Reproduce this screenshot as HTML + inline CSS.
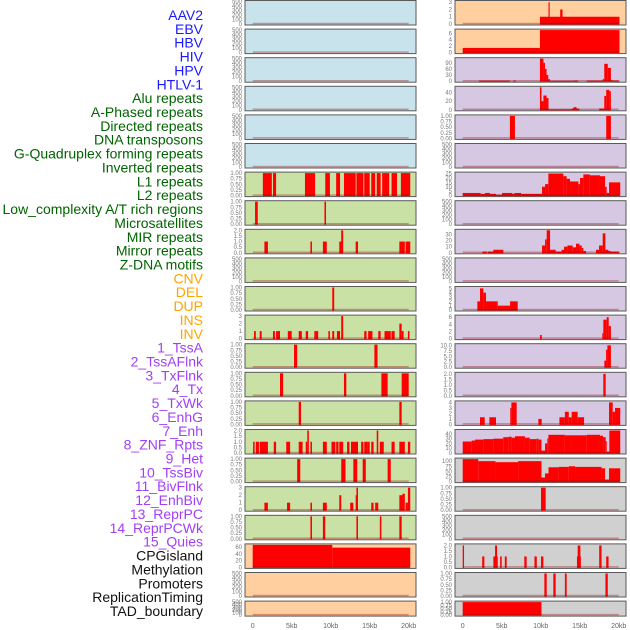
<!DOCTYPE html>
<html><head><meta charset="utf-8">
<style>
html,body{margin:0;padding:0;background:#fff;}
svg{display:block;font-family:"Liberation Sans",sans-serif;}
</style></head>
<body>
<svg id="chart" width="630" height="630" viewBox="0 0 630 630" xmlns="http://www.w3.org/2000/svg">
<g id="labels"></g>
<g id="panels"></g>
<g id="xaxes"></g>
</svg>
<script>
// ---- label data ----
const labelNames = ["AAV2","EBV","HBV","HIV","HPV","HTLV-1","Alu repeats","A-Phased repeats","Directed repeats","DNA transposons","G-Quadruplex forming repeats","Inverted repeats","L1 repeats","L2 repeats","Low_complexity A/T rich regions","Microsatellites","MIR repeats","Mirror repeats","Z-DNA motifs","CNV","DEL","DUP","INS","INV","1_TssA","2_TssAFlnk","3_TxFlnk","4_Tx","5_TxWk","6_EnhG","7_Enh","8_ZNF_Rpts","9_Het","10_TssBiv","11_BivFlnk","12_EnhBiv","13_ReprPC","14_ReprPCWk","15_Quies","CPGisland","Methylation","Promoters","ReplicationTiming","TAD_boundary"];
const labelGroups = [6,13,5,15,5];
const groupColors = ["#1a1aff","#006400","#ffa500","#a23ff5","#111111"];

// ---- tick label sets ----
const T500 = ["0","100","200","300","400","500"];
const T1 = ["0.00","0.25","0.50","0.75","1.00"];
const T2 = ["0.0","0.5","1.0","1.5","2.0"];
const T3 = ["0","1","2","3"];
const T60 = ["0","20","40","60"];
const T6 = ["0","2","4","6"];
const T90 = ["0","30","60","90"];
const T40 = ["0","20","40"];
const T25 = ["0","5","10","15","20","25"];
const T30 = ["0","10","20","30"];
const T5 = ["0","1","2","3","4","5"];
const T10 = ["0.0","2.5","5.0","7.5","10.0"];
const T4 = ["0","1","2","3","4"];
const T45 = ["0","10","20","30","40"];
const T100 = ["0","25","50","75","100"];

// ---- series data: [start_kb, end_kb, value] ----
const midL1 = [[1.3,2.45,1],[2.6,3.0,1],[6.7,8.0,1],[9.3,9.9,1],[10.7,11.2,1],[11.7,13.2,1],[13.3,14.2,1],[14.3,15.0,1],[15.2,15.7,1],[15.9,16.4,1],[16.6,17.5,1],[17.8,18.5,1],[19.0,20.2,1]];
const midL2 = [[0.3,0.65,1],[9.2,9.4,1]];
const midMIR = [[1.5,1.95,1],[7.4,7.6,1],[9.0,9.5,1],[11.1,11.5,1],[11.35,11.6,2],[13.2,13.5,1],[18.8,19.5,1],[19.6,20.2,1]];
const midR11 = [[10.2,10.45,1]];
const midR12 = [[0.17,0.4,1],[0.9,1.15,1],[2.6,2.85,1],[3.0,3.5,1],[4.5,5.0,1],[5.9,6.3,1],[6.8,7.1,1],[7.9,8.4,1],[9.7,9.9,1],[10.2,10.45,1],[10.8,11.2,1],[11.35,11.6,3],[14.3,14.6,1],[14.8,15.35,1],[16.1,16.4,1],[16.9,17.7,1],[17.8,18.2,1],[18.8,19.1,2],[19.1,19.35,1],[19.9,20.1,1]];
const midR13 = [[5.3,5.7,1],[15.6,16.0,1]];
const midR14 = [[3.5,3.9,1],[11.7,12.0,1],[16.5,17.3,1],[19.1,20.0,1]];
const midR15 = [[5.9,6.2,1],[18.8,19.1,1]];
const midR16 = [[0.05,0.25,1],[0.4,0.8,1],[0.9,1.95,1],[2.7,3.0,1],[4.3,4.8,1],[5.9,6.4,1],[6.8,7.0,1],[7.0,7.2,2],[7.4,7.6,1],[9.0,9.5,1],[10.1,10.6,1],[10.7,11.0,1],[11.1,11.6,1],[12.1,12.4,1],[12.6,13.5,1],[13.9,14.2,1],[14.3,14.7,1],[14.7,15.0,1],[15.2,15.5,1],[15.9,16.1,2],[16.3,16.8,1],[17.8,18.2,1],[18.8,19.5,1],[19.9,20.2,1]];
const midR17 = [[5.7,6.1,1],[11.35,11.9,1],[12.9,13.4,1],[14.1,14.5,1],[17.3,17.7,1]];
const midR18 = [[1.5,1.95,1],[4.4,4.8,1],[7.4,7.6,1],[9.0,9.5,1],[11.1,11.35,2],[12.5,12.9,1],[13.2,13.3,2],[13.3,13.5,3],[15.2,15.5,1],[15.7,16.1,1],[18.8,19.2,2],[19.2,19.5,2.2],[19.6,19.9,1],[19.9,20.2,3]];
const midR19 = [[7.4,7.6,1],[9.0,9.3,1],[13.3,13.5,1],[16.3,16.5,1],[18.8,19.1,1]];
const midCPG = [[0,10.2,66],[10.2,20.2,58]];

const rtR1 = [[9.9,20.1,1],[11.0,11.15,3],[12.5,12.8,2]];
const rtR2 = [[0,9.9,1.45],[9.9,20.1,7]];
const rtR3 = [[2.1,6.05,3],[6.5,6.8,3],[9.9,10.35,110],[10.35,10.55,90],[10.55,10.75,60],[10.75,10.97,30],[10.97,11.2,10],[11.2,14.2,2],[14.2,14.8,3],[15.9,17.95,3],[17.95,18.15,10],[18.15,18.6,85],[18.6,19.0,65],[19.0,19.2,5],[19.2,20.1,3]];
const rtR4 = [[9.9,10.1,52],[10.1,10.35,20],[10.35,10.75,33],[10.75,11.0,27],[11.0,13.97,1],[13.97,14.2,3],[14.2,14.6,6],[14.6,14.95,3],[17.5,18.15,3],[18.15,18.4,32],[18.4,18.8,46],[18.8,19.0,43]];
const rtR5 = [[6.05,6.7,1],[18.4,19.0,1]];
const rtR7 = [[0,2.3,3],[2.3,2.86,2],[2.86,3.5,3],[3.5,4.27,2],[4.27,5.04,1],[5.04,6.37,3],[6.37,6.62,2],[6.62,7.48,3],[7.48,10.17,2],[10.17,10.56,10],[10.56,10.98,13],[10.98,12.9,25],[12.9,13.33,22],[13.33,13.76,19],[13.76,14.83,16],[14.83,15.04,13],[15.04,15.47,20],[15.47,16.3,24],[16.3,17.6,23],[17.6,18.25,22],[18.25,18.46,10],[18.46,18.76,3],[18.76,20.2,15]];
const rtR9 = [[2.52,3.08,2],[3.2,3.93,2],[3.93,5.21,5],[10.17,10.56,12],[10.56,10.77,22],[10.77,11.2,37],[11.2,11.92,5],[11.92,12.69,2],[12.69,12.99,5],[12.99,13.42,10],[13.42,14.1,12],[14.1,14.53,9],[14.53,14.96,15],[14.96,15.26,12],[15.26,15.47,8],[15.47,15.81,3],[17.09,17.48,5],[17.48,17.95,12],[17.95,18.29,32],[18.29,18.68,5],[18.68,18.97,3],[18.97,20.09,2]];
const rtR11 = [[1.88,2.22,2],[2.22,2.65,5],[2.65,2.99,4],[2.99,4.49,2],[4.49,6.07,1],[6.07,7.05,2]];
const rtR12 = [[9.91,10.13,1],[17.9,18.03,1.5],[18.03,18.46,5.3],[18.46,18.72,6],[18.72,19.0,3.5]];
const rtR13 = [[18.16,18.38,3],[18.38,18.55,8],[18.55,19.0,10]];
const rtR14 = [[18.03,18.33,2]];
const rtR15 = [[2.22,2.82,1.3],[3.42,4.27,1.3],[6.1,6.24,3],[6.24,6.92,4],[9.7,10.13,1],[12.4,13.1,1.3],[13.1,13.6,2.3],[13.6,13.97,1.3],[13.97,14.74,2.3],[14.74,15.56,1.3],[18.76,19.23,4],[19.23,19.53,2.3],[19.53,20.2,3]];
const rtR16 = [[0,1.15,24],[1.15,1.58,26],[1.58,2.65,28],[2.65,3.93,29],[3.93,5.2,30],[5.2,5.85,33],[5.85,6.27,34],[6.27,6.7,32],[6.7,7.98,35],[7.98,8.6,32],[8.6,9.5,29],[9.5,9.7,30],[9.7,10.1,28],[10.1,10.56,5],[10.56,10.85,20],[10.85,10.98,30],[10.98,13.1,38],[13.1,13.76,37],[13.76,15.9,37],[15.9,17.6,38],[17.6,18.0,36],[18.0,18.33,33],[18.33,18.46,25],[18.46,18.8,3],[18.8,20.2,47]];
const rtR17 = [[0,2.0,110],[2.0,4.2,100],[4.2,7.1,95],[7.1,10.1,100],[10.1,10.55,20],[10.55,11.0,40],[11.0,12.3,70],[12.3,13.6,72],[13.6,14.4,75],[14.4,17.8,72],[17.8,18.25,65],[18.25,18.76,10],[18.76,20.2,65]];
const rtR18 = [[10.04,10.64,1]];
const rtR20 = [[0,0.17,2],[2.5,2.78,1],[3.93,4.49,1],[4.15,4.4,2],[4.8,5.0,1],[5.4,5.64,1],[7.9,8.2,1],[9.2,9.5,1],[10.04,10.34,1],[14.65,15.15,1],[14.74,15.09,2],[17.5,17.8,2],[18.4,18.7,1]];
const rtR21 = [[10.47,10.77,1],[11.62,11.92,1],[13.1,13.33,1],[18.3,18.6,1]];
const rtR22 = [[0,10.1,1]];

const xTicks = [0,5,10,15,20];
const xTickLabels = ["0","5kb","10kb","15kb","20kb"];

// ---- panel specs: [series, ticks, max, bg] ----
const BLUE="#c8e3eb", GREEN="#c9e1a5", PEACH="#ffcf9f", LAV="#d6c7e3", GREY="#d0d0d0";
const midPanels = [
 [[],T500,500,BLUE],[[],T500,500,BLUE],[[],T500,500,BLUE],[[],T500,500,BLUE],[[],T500,500,BLUE],[[],T500,500,BLUE],
 [midL1,T1,1,GREEN],[midL2,T1,1,GREEN],[midMIR,T2,2,GREEN],[[],T500,500,GREEN],[midR11,T1,1,GREEN],[midR12,T3,3,GREEN],
 [midR13,T1,1,GREEN],[midR14,T1,1,GREEN],[midR15,T1,1,GREEN],[midR16,T2,2,GREEN],[midR17,T1,1,GREEN],[midR18,T3,3,GREEN],[midR19,T1,1,GREEN],
 [midCPG,T60,66,PEACH],[[],T500,500,PEACH],[[],T500,500,PEACH]
];
const rightPanels = [
 [rtR1,T3,3.1,PEACH],[rtR2,T6,7,PEACH],
 [rtR3,T90,110,LAV],[rtR4,T40,52,LAV],[rtR5,T1,1,LAV],[[],T500,500,LAV],[rtR7,T25,25.5,LAV],[[],T500,500,LAV],[rtR9,T30,37,LAV],[[],T500,500,LAV],
 [rtR11,T5,5.2,LAV],[rtR12,T6,6.3,LAV],[rtR13,T10,10.3,LAV],[rtR14,T2,2.05,LAV],[rtR15,T4,4.1,LAV],[rtR16,T45,47,LAV],
 [rtR17,T100,110,GREY],[rtR18,T1,1,GREY],[[],T500,500,GREY],[rtR20,T2,2.05,GREY],[rtR21,T1,1,GREY],[rtR22,T1,1,GREY]
];

const NS="http://www.w3.org/2000/svg";
function mk(tag, attrs, parent){const e=document.createElementNS(NS,tag);for(const k in attrs)e.setAttribute(k,attrs[k]);parent.appendChild(e);return e;}

// labels
const lg=document.getElementById('labels');
let li=0;
labelGroups.forEach((n,g)=>{for(let j=0;j<n;j++){const name=labelNames[li];
 const t=mk('text',{x:203,y:15+li*13.86+5,'text-anchor':'end','font-size':'14',fill:groupColors[g]},lg);
 t.textContent=name;
 
 
 li++;}});

// axis functions
const KB=7.8;
function xScale(x0,kb){return x0+kb*KB;}
function rowTop(i){return 0.5+i*28.6;}
function rowH(i){return i===21?15:24.5;}

const pg=document.getElementById('panels');
function drawColumn(panels, left, x0, colName){
 panels.forEach((p,i)=>{
  const [series,ticks,max,bg]=p;
  const top=rowTop(i), h=rowH(i), bottom=top+h-1;
  const g=mk('g',{},pg);
  
  
  mk('rect',{x:left,y:top,width:171,height:h,fill:bg,stroke:'#5a5a5a','stroke-width':1},g);
  const yS=v=>bottom-(Math.min(v,max)/max)*(h-2);
  ticks.forEach(tl=>{const v=parseFloat(tl);
   const t=mk('text',{x:left-3,y:yS(v)+2,'text-anchor':'end','font-size':'6',fill:'#777'},g);
   t.textContent=tl;
   
   });
  series.forEach(s=>{const xa=xScale(x0,s[0]), xb=xScale(x0,s[1]), y=yS(s[2]);
   const r=mk('rect',{x:xa,y:y,width:Math.max(xb-xa,1),height:bottom-y+0.5,fill:'#ff0000'},g);
   
   });
  const bl=mk('line',{x1:xScale(x0,0),x2:xScale(x0,20),y1:bottom-0.5,y2:bottom-0.5,stroke:'rgba(150,0,0,0.35)','stroke-width':1.5},g);
  
  
 });
}
drawColumn(midPanels,245,252.7,'middle');
drawColumn(rightPanels,455,462.7,'right');

const xg=document.getElementById('xaxes');
[252.7,462.7].forEach(x0=>{xTicks.forEach((k,j)=>{
 const t=mk('text',{x:xScale(x0,k),y:628,'text-anchor':'middle','font-size':'7',fill:'#666'},xg);
 t.textContent=xTickLabels[j];
 
 });});
</script>
</body></html>
